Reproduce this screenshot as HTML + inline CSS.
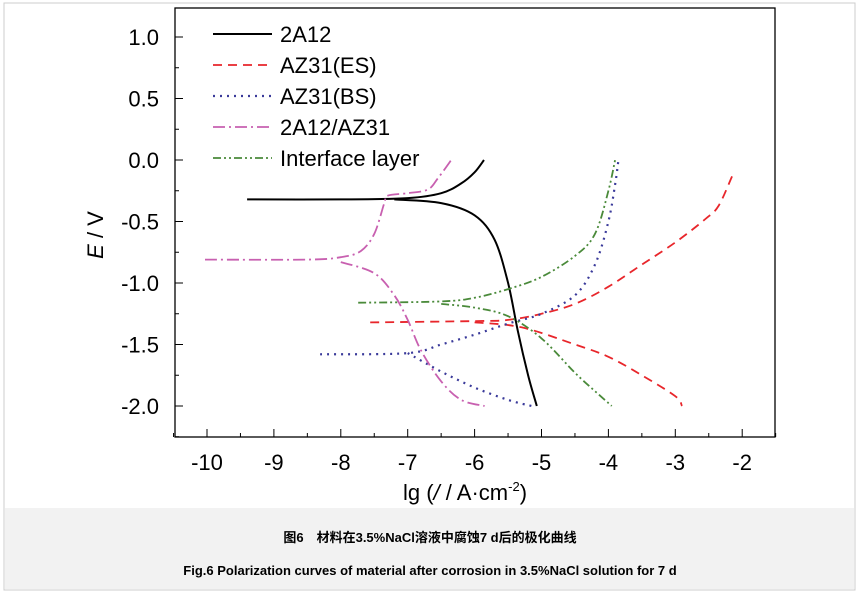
<!DOCTYPE html>
<html><head><meta charset="utf-8"><style>
body{margin:0;background:#fff;width:859px;height:599px;overflow:hidden;font-family:"Liberation Sans","Noto Sans CJK SC",sans-serif}
</style></head><body>
<svg id="c" width="859" height="599" style="position:absolute;left:0;top:0">
<rect x="4" y="3" width="851" height="587" fill="#fff" stroke="#ccc"/>
<rect x="5" y="508" width="849" height="81" fill="#f2f2f2"/>
<text x="430" y="542" text-anchor="middle" font-size="13" font-weight="bold" font-family="Liberation Sans,'Noto Sans CJK SC',sans-serif">图6　材料在3.5%NaCl溶液中腐蚀7 d后的极化曲线</text>
<text x="430" y="575" text-anchor="middle" font-size="13" font-weight="bold">Fig.6   Polarization curves of material after corrosion in 3.5%NaCl solution for 7 d</text>
<g id="plot"></g>
</svg>
<script>
const xTicks=[-10,-9,-8,-7,-6,-5,-4,-3,-2];
const yTicks=[1.0,0.5,0.0,-0.5,-1.0,-1.5,-2.0];
const yTickLabels=["1.0","0.5","0.0","-0.5","-1.0","-1.5","-2.0"];
const seriesNames=["2A12","AZ31(ES)","AZ31(BS)","2A12/AZ31","Interface layer"];
const s2A12Anodic=[[-9.4,-0.32],[-8,-0.32],[-7,-0.31],[-6.5,-0.27],[-6.2,-0.19],[-6.0,-0.1],[-5.86,0.0]];
const s2A12Cathodic=[[-7.2,-0.32],[-6.5,-0.35],[-6.0,-0.45],[-5.7,-0.65],[-5.5,-1.0],[-5.35,-1.4],[-5.2,-1.75],[-5.07,-2.0]];
const sESAnodic=[[-7.56,-1.32],[-6,-1.31],[-5.5,-1.3],[-5,-1.25],[-4.5,-1.17],[-4,-1.03],[-3.5,-0.85],[-3,-0.67],[-2.55,-0.48],[-2.35,-0.37],[-2.15,-0.13]];
const sESCathodic=[[-6,-1.32],[-5.3,-1.36],[-4.5,-1.5],[-4,-1.6],[-3.5,-1.75],[-3,-1.92],[-2.9,-2.0]];
const sBSAnodic=[[-8.31,-1.58],[-7,-1.57],[-6.5,-1.5],[-6,-1.42],[-5.5,-1.33],[-5,-1.25],[-4.5,-1.1],[-4.2,-0.85],[-4,-0.5],[-3.9,-0.2],[-3.85,0.0]];
const sBSCathodic=[[-7,-1.57],[-6.5,-1.72],[-6,-1.85],[-5.5,-1.95],[-5.15,-2.0]];
const sMixAnodic=[[-10.03,-0.81],[-8.5,-0.81],[-8,-0.79],[-7.7,-0.74],[-7.5,-0.6],[-7.35,-0.35],[-7.3,-0.29],[-7,-0.27],[-6.7,-0.24],[-6.55,-0.15],[-6.35,0.0]];
const sMixCathodic=[[-8,-0.83],[-7.5,-0.92],[-7.2,-1.1],[-7,-1.3],[-6.8,-1.55],[-6.5,-1.8],[-6.2,-1.95],[-5.85,-2.0]];
const sIntAnodic=[[-7.74,-1.16],[-6.5,-1.15],[-6,-1.12],[-5.5,-1.05],[-5,-0.95],[-4.5,-0.78],[-4.2,-0.6],[-4.0,-0.25],[-3.9,0.0]];
const sIntCathodic=[[-6.5,-1.17],[-6,-1.2],[-5.5,-1.27],[-5,-1.45],[-4.5,-1.73],[-4.2,-1.88],[-3.95,-2.0]];

const NS="http://www.w3.org/2000/svg";
const L=175,R=775,T=8,B=437;
const xs=v=>207+(v+10)*66.9;
const ys=v=>37+(1-v)*123;
const g=document.getElementById('plot');
function mk(t,a){const e=document.createElementNS(NS,t);for(const k in a)e.setAttribute(k,a[k]);g.appendChild(e);return e;}
function smooth(pts){
 const p=pts.map(q=>[xs(q[0]),ys(q[1])]);
 let d='M'+p[0][0].toFixed(1)+','+p[0][1].toFixed(1);
 for(let i=0;i<p.length-1;i++){
  const p0=p[i-1]||p[i],p1=p[i],p2=p[i+1],p3=p[i+2]||p2;
  const c1=[p1[0]+(p2[0]-p0[0])/6,p1[1]+(p2[1]-p0[1])/6];
  const c2=[p2[0]-(p3[0]-p1[0])/6,p2[1]-(p3[1]-p1[1])/6];
  d+=' C'+c1.map(v=>v.toFixed(1)).join(',')+' '+c2.map(v=>v.toFixed(1)).join(',')+' '+p2.map(v=>v.toFixed(1)).join(',');
 }
 return d;
}
let e=mk('rect',{x:L,y:T,width:R-L,height:B-T,fill:'none',stroke:'#000','stroke-width':1.3});


for(let i=0;i<xTicks.length;i++){const v=xTicks[i];
 e=mk('line',{x1:xs(v),x2:xs(v),y1:B,y2:B-8,stroke:'#000'});
 
 
 e=mk('line',{x1:xs(v+0.5),x2:xs(v+0.5),y1:B,y2:B-4,stroke:'#000'});
 
 
 e=mk('text',{x:xs(v),y:470,'text-anchor':'middle','font-size':22});e.textContent=String(v);
 
 }
e=mk('line',{x1:xs(-10.5),x2:xs(-10.5),y1:B,y2:B-4,stroke:'#000'});
for(let i=0;i<yTicks.length;i++){const v=yTicks[i];
 e=mk('line',{x1:L,x2:L+8,y1:ys(v),y2:ys(v),stroke:'#000'});
 
 
 e=mk('line',{x1:L,x2:L+4,y1:ys(v-0.25),y2:ys(v-0.25),stroke:'#000'});
 
 
 e=mk('text',{x:159,y:ys(v)+8,'text-anchor':'end','font-size':22});e.textContent=yTickLabels[i];
 
 }
e=mk('text',{x:465,y:500,'text-anchor':'middle','font-size':22});
e.innerHTML='lg (<tspan font-style="italic">/</tspan> / A·cm<tspan dy="-9" font-size="13">-2</tspan><tspan dy="9">)</tspan>';


e=mk('text',{x:0,y:0,'text-anchor':'middle','font-size':22,transform:'translate(103,235) rotate(-90)'});
e.innerHTML='<tspan font-style="italic">E</tspan> / V';


const styles=[
 {c:'#000',d:'',w:2},
 {c:'#e8262b',d:'9,6',w:1.8},
 {c:'#3a3a9a',d:'2,5',w:2.2},
 {c:'#c860b0',d:'12,4,2,4',w:1.8},
 {c:'#4a8a3a',d:'8,3,2,3,2,3',w:1.8}];
const sets=[[s2A12Anodic,s2A12Cathodic],[sESAnodic,sESCathodic],[sBSAnodic,sBSCathodic],[sMixAnodic,sMixCathodic],[sIntAnodic,sIntCathodic]];
const ids=['2a12','az31-es','az31-bs','2a12-az31','interface-layer'];
sets.forEach((pair,i)=>{const s=styles[i];
 pair.forEach((pts,j)=>{
  e=mk('path',{d:smooth(pts),fill:'none',stroke:s.c,'stroke-width':s.w,'stroke-dasharray':s.d,'stroke-linejoin':'round'});
  
  
 });
 const ly=34+i*31;
 e=mk('line',{x1:213,x2:272,y1:ly,y2:ly,stroke:s.c,'stroke-width':s.w,'stroke-dasharray':s.d});
 
 
 e=mk('text',{x:280,y:ly+8,'font-size':22});e.textContent=seriesNames[i];
 
 
});
</script>
</body></html>
